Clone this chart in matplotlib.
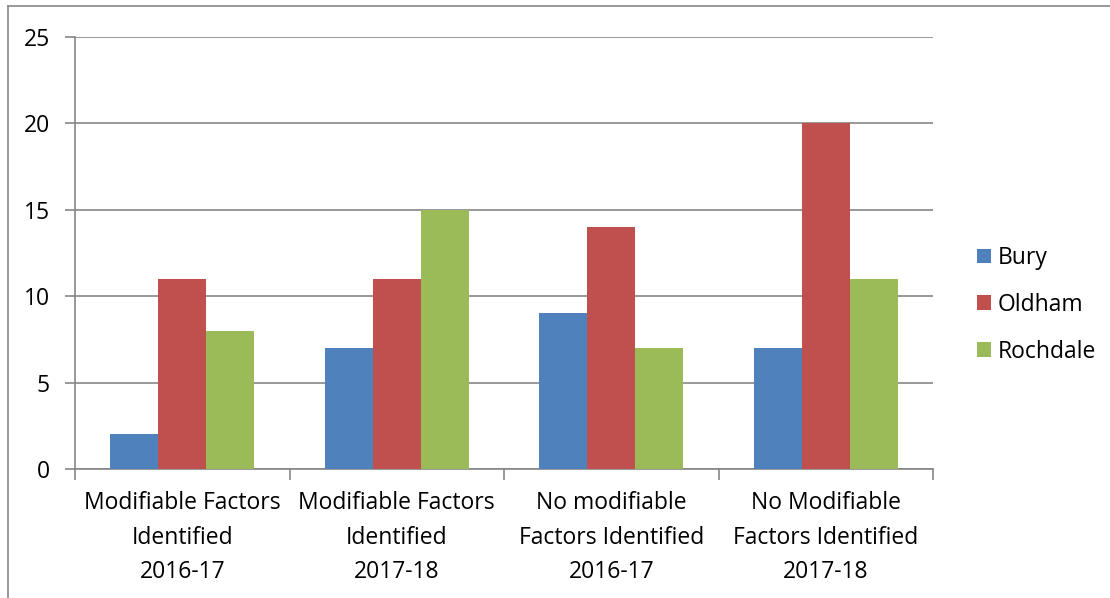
import numpy as np
import matplotlib.pyplot as plt
from matplotlib.lines import Line2D

categories = ["Modifiable Factors\nIdentified\n2016-17",
              "Modifiable Factors\nIdentified\n2017-18",
              "No modifiable\nFactors Identified\n2016-17",
              "No Modifiable\nFactors Identified\n2017-18"]
series = ["Bury", "Oldham", "Rochdale"]
bury = [2, 7, 9, 7]
oldham = [11, 11, 14, 20]
rochdale = [8, 15, 7, 11]
colors = ["#4F81BD", "#C0504D", "#9BBB59"]
yticks = [0, 5, 10, 15, 20, 25]

plt.rcParams['font.family'] = ['Open Sans', 'DejaVu Sans']
grey = "#868686"
fs = 16.5

fig = plt.figure(figsize=(11.1, 5.98), dpi=100)
ax = fig.add_axes([75/1110, 1-469/598, (933-75)/1110, (469-37)/598])

x = np.arange(len(categories))
w = 0.223
for i, (name, vals) in enumerate(zip(series, [bury, oldham, rochdale])):
    ax.bar(x + (i - 1) * w, vals, w, color=colors[i], label=name, zorder=3)

ax.set_xlim(-0.5, len(categories) - 0.5)
ax.set_ylim(0, 25)
ax.set_yticks(yticks)
ax.set_yticklabels([str(v) for v in yticks], fontsize=fs)
ax.yaxis.grid(True, color=grey, linewidth=1.2, zorder=0)
ax.tick_params(axis='y', length=7, width=1.2, color=grey, pad=11)

ax.set_xticks(x)
ax.set_xticklabels(categories, fontsize=fs, linespacing=1.58)
ax.tick_params(axis='x', which='major', length=0, pad=16)
ax.set_xticks(np.arange(-0.5, len(categories)), minor=True)
ax.tick_params(axis='x', which='minor', length=8, width=1.2, color=grey)

for s in ['top', 'right']:
    ax.spines[s].set_visible(False)
for s in ['left', 'bottom']:
    ax.spines[s].set_color(grey)
    ax.spines[s].set_linewidth(1.2)

leg = ax.legend(loc='center left', bbox_to_anchor=(1.027, 0.38), frameon=False,
                fontsize=fs, handlelength=0.6, handleheight=0.6,
                handletextpad=0.3, labelspacing=1.0)

# outer frame of the cropped chart
fig.add_artist(Line2D([8/1110, 8/1110], [0, 1-6/598], color=grey, linewidth=1.2))
fig.add_artist(Line2D([8/1110, 1], [1-6/598, 1-6/598], color=grey, linewidth=1.2))
# cut-off title remnant
fig.text(176/1110, 1.008, "g", fontsize=16, fontweight='bold', ha='center', va='baseline')

fig.savefig("out.png", dpi=100)
